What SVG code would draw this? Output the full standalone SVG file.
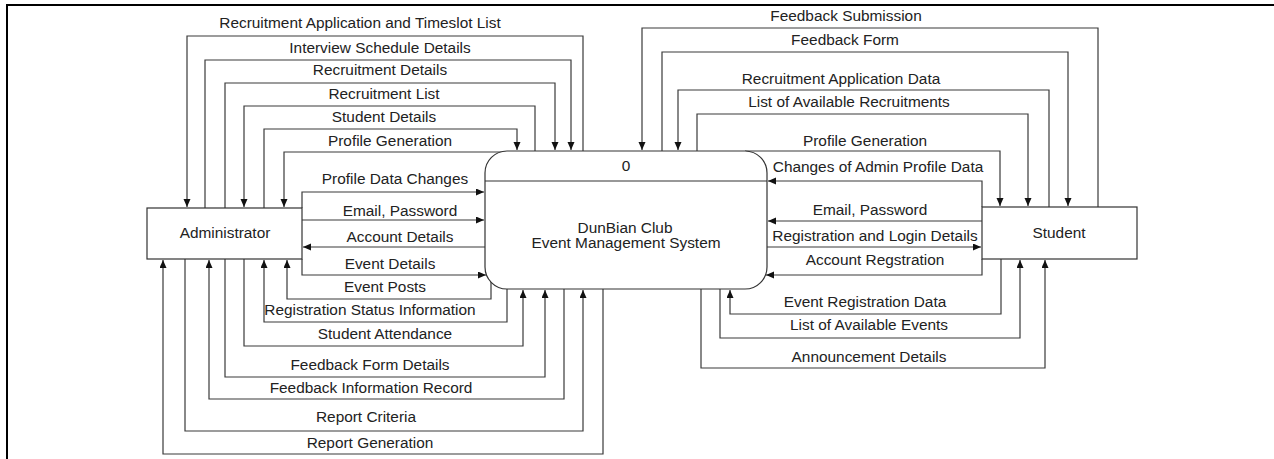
<svg xmlns="http://www.w3.org/2000/svg" width="1274" height="459" viewBox="0 0 1274 459">
<style>
.t{font-family:"Liberation Sans",Arial,sans-serif;font-size:15.4px;fill:#222;text-anchor:middle}
.c{fill:none;stroke:#3a3a3a;stroke-width:1.2}
.b{fill:#fff;stroke:#333;stroke-width:1.2}
</style>
<defs>
<marker id="ah" markerUnits="userSpaceOnUse" markerWidth="9" markerHeight="8" refX="8" refY="3.5" orient="auto">
<path d="M0,0 L8,3.5 L0,7 Z" fill="#111"/>
</marker>
</defs>
<rect width="1274" height="459" fill="#fff"/>
<path d="M7,459 V5 H1274" fill="none" stroke="#000" stroke-width="2"/>

<g id="connectors">
<path class="c" d="M583,151 V36 H187 V207" marker-end="url(#ah)"/>
<path class="c" d="M205,208 V60 H571 V150" marker-end="url(#ah)"/>
<path class="c" d="M225,208 V83 H555 V150" marker-end="url(#ah)"/>
<path class="c" d="M535,151 V106 H244 V207" marker-end="url(#ah)"/>
<path class="c" d="M264,208 V129 H517 V150" marker-end="url(#ah)"/>
<path class="c" d="M510,152 H284 V207" marker-end="url(#ah)"/>
<path class="c" d="M302,208 V192 H484" marker-end="url(#ah)"/>
<path class="c" d="M302,220 H484" marker-end="url(#ah)"/>
<path class="c" d="M485,247 H303" marker-end="url(#ah)"/>
<path class="c" d="M302,259 V275 H486" marker-end="url(#ah)"/>
<path class="c" d="M491,282 V299 H287 V260" marker-end="url(#ah)"/>
<path class="c" d="M507,289 V322 H264 V260" marker-end="url(#ah)"/>
<path class="c" d="M244,259 V346 H523 V290" marker-end="url(#ah)"/>
<path class="c" d="M225,259 V377 H545 V290" marker-end="url(#ah)"/>
<path class="c" d="M564,289 V399 H209 V260" marker-end="url(#ah)"/>
<path class="c" d="M185,259 V431 H583 V290" marker-end="url(#ah)"/>
<path class="c" d="M603,289 V454 H163 V260" marker-end="url(#ah)"/>
<path class="c" d="M1098,207 V28 H642 V150" marker-end="url(#ah)"/>
<path class="c" d="M662,151 V52 H1068 V206" marker-end="url(#ah)"/>
<path class="c" d="M1049,207 V90 H678 V150" marker-end="url(#ah)"/>
<path class="c" d="M697,151 V114 H1028 V206" marker-end="url(#ah)"/>
<path class="c" d="M745,151 H1000 V206" marker-end="url(#ah)"/>
<path class="c" d="M982,207 V181 H768" marker-end="url(#ah)"/>
<path class="c" d="M982,221 H768" marker-end="url(#ah)"/>
<path class="c" d="M767,247 H981" marker-end="url(#ah)"/>
<path class="c" d="M982,259 V275 H766" marker-end="url(#ah)"/>
<path class="c" d="M1001,259 V314 H730 V290" marker-end="url(#ah)"/>
<path class="c" d="M720,289 V338 H1020 V260" marker-end="url(#ah)"/>
<path class="c" d="M701,289 V368 H1045 V260" marker-end="url(#ah)"/>
</g>

<g id="labels">
<text class="t" x="360" y="28">Recruitment Application and Timeslot List</text>
<text class="t" x="380" y="53">Interview Schedule Details</text>
<text class="t" x="380" y="75">Recruitment Details</text>
<text class="t" x="384" y="99">Recruitment List</text>
<text class="t" x="384" y="122">Student Details</text>
<text class="t" x="390" y="146">Profile Generation</text>
<text class="t" x="395" y="184">Profile Data Changes</text>
<text class="t" x="400" y="216">Email, Password</text>
<text class="t" x="400" y="242">Account Details</text>
<text class="t" x="390" y="269">Event Details</text>
<text class="t" x="385" y="292">Event Posts</text>
<text class="t" x="370" y="315">Registration Status Information</text>
<text class="t" x="385" y="339">Student Attendance</text>
<text class="t" x="370" y="370">Feedback Form Details</text>
<text class="t" x="371" y="393">Feedback Information Record</text>
<text class="t" x="366" y="422">Report Criteria</text>
<text class="t" x="370" y="448">Report Generation</text>
<text class="t" x="846" y="21">Feedback Submission</text>
<text class="t" x="845" y="45">Feedback Form</text>
<text class="t" x="841" y="84">Recruitment Application Data</text>
<text class="t" x="849" y="107">List of Available Recruitments</text>
<text class="t" x="865" y="146">Profile Generation</text>
<text class="t" x="878" y="172">Changes of Admin Profile Data</text>
<text class="t" x="870" y="215">Email, Password</text>
<text class="t" x="875" y="241">Registration and Login Details</text>
<text class="t" x="875" y="265">Account Regstration</text>
<text class="t" x="865" y="307">Event Registration Data</text>
<text class="t" x="869" y="330">List of Available Events</text>
<text class="t" x="869" y="362">Announcement Details</text>
</g>

<g id="administrator">
<rect class="b" x="147" y="208" width="155" height="51"/>
<text class="t" x="225" y="238">Administrator</text>
</g>

<g id="process">
<rect class="b" x="485" y="151" width="282" height="138" rx="22" ry="22"/>
<line x1="485" y1="181" x2="767" y2="181" stroke="#333" stroke-width="1.2"/>
<text class="t" x="626" y="171">0</text>
<text class="t" x="625" y="233">DunBian Club</text>
<text class="t" x="626" y="248">Event Management System</text>
</g>

<g id="student">
<rect class="b" x="982" y="207" width="155" height="52"/>
<text class="t" x="1059" y="238">Student</text>
</g>
</svg>
